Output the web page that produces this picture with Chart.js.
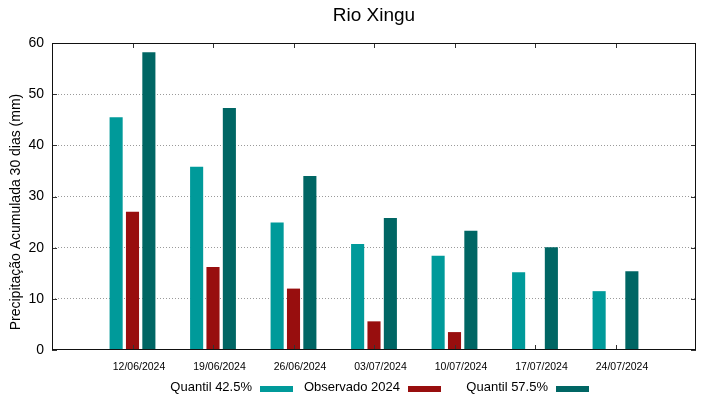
<!DOCTYPE html>
<html>
<head>
<meta charset="utf-8">
<script src="https://cdn.jsdelivr.net/npm/chart.js@4/dist/chart.umd.min.js"></script>
<style>
  html, body { margin: 0; padding: 0; background: #fff; }
  #wrap { width: 719px; height: 399px; position: relative; }
</style>
</head>
<body>
<div id="wrap"><canvas id="c" width="719" height="399"></canvas></div>
<script>
const chartTitle = 'Rio Xingu';
const yTitle = 'Precipitação Acumulada 30 dias (mm)';
const categories = ['12/06/2024', '19/06/2024', '26/06/2024', '03/07/2024', '10/07/2024', '17/07/2024', '24/07/2024'];
const quantil425 = [45.5, 35.8, 24.9, 20.7, 18.4, 15.2, 11.5];
const observado2024 = [27.0, 16.2, 12.0, 5.6, 3.5, null, null];
const quantil575 = [58.2, 47.3, 34.0, 25.8, 23.3, 20.1, 15.4];
const yTicks = [0, 10, 20, 30, 40, 50, 60];
const seriesNames = ['Quantil 42.5%', 'Observado 2024', 'Quantil 57.5%'];
const seriesColors = ['#009a9a', '#980e0e', '#006664'];

const FONT = '"Liberation Sans", Arial, sans-serif';

function toPoints(arr) {
  return arr.map((v, i) => ({ x: i + 1, y: v }));
}

const framePlugin = {
  id: 'frame',
  afterDraw(chart) {
    const ctx = chart.ctx;
    const a = chart.chartArea;
    const xs = chart.scales.x, ys = chart.scales.y;
    ctx.save();
    ctx.strokeStyle = '#333';
    ctx.lineWidth = 1;
    ctx.beginPath();
    categories.forEach((c, i) => {
      const px = Math.round(xs.getPixelForValue(i + 1)) + 0.5;
      ctx.moveTo(px, a.top); ctx.lineTo(px, a.top + 5);
      ctx.moveTo(px, a.bottom); ctx.lineTo(px, a.bottom - 5);
    });
    yTicks.forEach(v => {
      const py = Math.round(ys.getPixelForValue(v)) + 0.5;
      ctx.moveTo(a.left, py); ctx.lineTo(a.left + 5, py);
      ctx.moveTo(a.right, py); ctx.lineTo(a.right - 5, py);
    });
    ctx.stroke();
    ctx.strokeStyle = '#111';
    ctx.strokeRect(Math.round(a.left) + 0.5, Math.round(a.top) + 0.5,
                   Math.round(a.right - a.left) - 1, Math.round(a.bottom - a.top) - 1);
    ctx.fillStyle = '#000';
    ctx.font = '14px ' + FONT;
    ctx.textAlign = 'center';
    ctx.textBaseline = 'middle';
    ctx.translate(16, 212);
    ctx.rotate(-Math.PI / 2);
    ctx.fillText(yTitle, 0, 0);
    ctx.restore();
    ctx.save();
    ctx.font = '13px ' + FONT;
    ctx.textAlign = 'right';
    ctx.textBaseline = 'middle';
    const colW = 148;
    const x0 = a.left + 93;
    const ly = 387;
    seriesNames.forEach((name, i) => {
      const right = x0 + colW * (i + 1);
      const sx = right - 33;
      ctx.fillStyle = seriesColors[i];
      ctx.fillRect(sx, ly - 1, 33, 6);
      ctx.fillStyle = '#000';
      ctx.fillText(name, sx - 8, ly);
    });
    ctx.restore();
  }
};

new Chart(document.getElementById('c'), {
  type: 'bar',
  data: {
    datasets: [
      { label: seriesNames[0], data: toPoints(quantil425), backgroundColor: seriesColors[0] },
      { label: seriesNames[1], data: toPoints(observado2024), backgroundColor: seriesColors[1] },
      { label: seriesNames[2], data: toPoints(quantil575), backgroundColor: seriesColors[2] }
    ]
  },
  options: {
    responsive: false,
    animation: false,
    devicePixelRatio: 1,
    categoryPercentage: 0.61,
    barPercentage: 0.8,
    layout: { padding: { left: 0, right: 23, top: 0, bottom: 0 } },
    plugins: {
      legend: { display: false },
      tooltip: { enabled: false },
      title: {
        display: true,
        text: chartTitle,
        fullSize: false,
        color: '#000',
        font: { family: FONT, size: 19, weight: 'normal' },
        padding: { top: 4, bottom: 16.2 }
      }
    },
    scales: {
      x: {
        type: 'linear',
        offset: false,
        min: 0,
        max: categories.length + 1,
        afterBuildTicks(scale) {
          scale.ticks = categories.map((c, i) => ({ value: i + 1 }));
        },
        afterFit(scale) { scale.height = 49; },
        grid: { display: false, drawTicks: false, offset: false },
        border: { display: false },
        ticks: {
          autoSkip: false,
          maxRotation: 0,
          padding: 11,
          labelOffset: 6.5,
          color: '#000',
          font: { family: FONT, size: 10.5 },
          callback: (v) => categories[v - 1] || ''
        }
      },
      y: {
        min: 0,
        max: 60,
        afterBuildTicks(scale) {
          scale.ticks = yTicks.map(v => ({ value: v }));
        },
        afterFit(scale) { scale.width = 52; },
        grid: {
          drawTicks: false,
          color: (c) => (c.tick && (c.tick.value === 0 || c.tick.value === 60)) ? 'rgba(0,0,0,0)' : '#9a9a9a',
          lineWidth: 1
        },
        border: { display: false, dash: [1, 2] },
        ticks: {
          padding: 8,
          color: '#000',
          font: { family: FONT, size: 14 }
        }
      }
    }
  },
  plugins: [framePlugin]
});
</script>
</body>
</html>
